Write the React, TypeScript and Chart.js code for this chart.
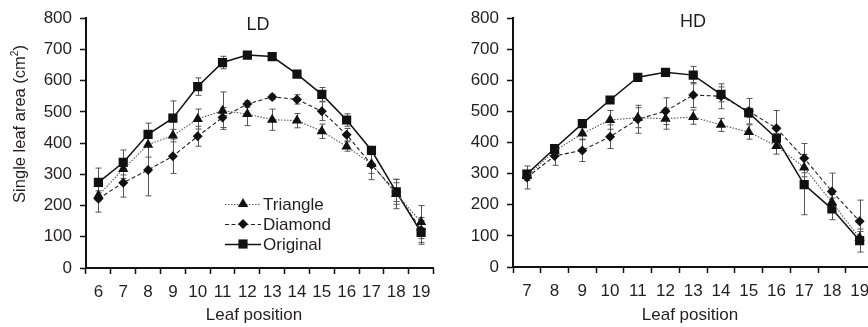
import React, { useEffect, useRef } from "react";
import { Chart, registerables } from "chart.js";
Chart.register(...registerables);

// ---------- DATA ----------
const ldPositions = ["6", "7", "8", "9", "10", "11", "12", "13", "14", "15", "16", "17", "18", "19"];
const ldTriangle = [232, 317, 395, 424, 477, 504, 493, 475, 472, 438, 389, 333, 237, 147];
const ldTriangleErr = [15, 30, 40, 20, 32, 60, 37, 34, 23, 23, 15, 30, 47, 53];
const ldDiamond = [222, 273, 314, 358, 422, 482, 525, 548, 540, 502, 427, 331, 243, 122];
const ldDiamondErr = [43, 46, 83, 55, 32, 32, 10, 8, 15, 30, 20, 48, 30, 40];
const ldOriginal = [274, 338, 428, 480, 581, 658, 682, 677, 621, 556, 474, 377, 244, 114];
const ldOriginalErr = [46, 40, 36, 55, 28, 20, 8, 8, 10, 22, 20, 12, 40, 38];

const hdPositions = ["7", "8", "9", "10", "11", "12", "13", "14", "15", "16", "17", "18", "19"];
const hdTriangle = [293, 373, 429, 473, 480, 477, 482, 457, 434, 389, 320, 208, 94];
const hdTriangleErr = [15, 15, 20, 30, 32, 34, 23, 21, 23, 26, 30, 25, 20];
const hdDiamond = [288, 357, 375, 419, 475, 501, 553, 549, 501, 446, 350, 243, 147];
const hdDiamondErr = [37, 30, 36, 38, 45, 43, 40, 40, 41, 57, 47, 59, 68];
const hdOriginal = [299, 381, 461, 537, 610, 626, 617, 555, 496, 414, 265, 187, 85];
const hdOriginalErr = [12, 10, 10, 8, 8, 8, 28, 24, 15, 15, 97, 35, 37];

const seriesNames = ["Triangle", "Diamond", "Original"];
const yTicks = [0, 100, 200, 300, 400, 500, 600, 700, 800];
const yAxisTitle = "Single leaf area (cm";
const xAxisTitle = "Leaf position";

// ---------- STYLE ----------
const FONT = "'Liberation Sans', Arial, Helvetica, sans-serif";
const TEXT = "#231f20";
const TICK_SIZE = 17;

const seriesStyles = [
  { pointStyle: "triangle", radius: 6, dash: [1.5, 1.5], color: "#555", width: 1.1 },
  { pointStyle: "rectRot", radius: 5, dash: [4, 2.5], color: "#222", width: 1.1 },
  { pointStyle: "rect", radius: 6.5, dash: [], color: "#111", width: 1.5 },
];

function drawMarker(ctx: CanvasRenderingContext2D, style: string, x: number, y: number, r: number) {
  ctx.beginPath();
  if (style === "triangle") {
    ctx.moveTo(x, y - r);
    ctx.lineTo(x + r * 0.866, y + r * 0.5);
    ctx.lineTo(x - r * 0.866, y + r * 0.5);
    ctx.closePath();
  } else if (style === "rectRot") {
    ctx.moveTo(x, y - r);
    ctx.lineTo(x + r, y);
    ctx.lineTo(x, y + r);
    ctx.lineTo(x - r, y);
    ctx.closePath();
  } else {
    const s = r * Math.SQRT1_2;
    ctx.rect(x - s, y - s, 2 * s, 2 * s);
  }
  ctx.fill();
}

const errorBarPlugin = {
  id: "errorBars",
  beforeDatasetsDraw(chart: any) {
    const ctx = chart.ctx;
    const ys = chart.scales.y;
    ctx.save();
    ctx.strokeStyle = "#555";
    ctx.lineWidth = 1;
    chart.data.datasets.forEach((ds: any, i: number) => {
      const errs: number[] = ds.errorBars;
      if (!errs) return;
      const meta = chart.getDatasetMeta(i);
      meta.data.forEach((pt: any, j: number) => {
        const v = ds.data[j];
        const e = errs[j];
        const x = Math.round(pt.x) + 0.5;
        const yt = ys.getPixelForValue(v + e);
        const yb = ys.getPixelForValue(v - e);
        ctx.beginPath();
        ctx.moveTo(x, yt);
        ctx.lineTo(x, yb);
        ctx.moveTo(x - 3, yt);
        ctx.lineTo(x + 3, yt);
        ctx.moveTo(x - 3, yb);
        ctx.lineTo(x + 3, yb);
        ctx.stroke();
      });
    });
    ctx.restore();
  },
};

const annotationPlugin = {
  id: "panelText",
  afterDraw(chart: any, _args: any, opts: any) {
    const ctx: CanvasRenderingContext2D = chart.ctx;
    ctx.save();
    ctx.fillStyle = TEXT;
    ctx.textBaseline = "middle";
    // panel title
    ctx.font = `18px ${FONT}`;
    ctx.textAlign = "center";
    ctx.fillText(opts.title, opts.titleX, opts.titleY);
    // x axis title
    ctx.font = `17px ${FONT}`;
    ctx.fillText(xAxisTitle, opts.xTitleX, opts.xTitleY);
    // y axis title
    if (opts.showYTitle) {
      ctx.save();
      ctx.translate(opts.yTitleX, opts.yTitleY);
      ctx.rotate(-Math.PI / 2);
      ctx.font = `16.5px ${FONT}`;
      const w1 = ctx.measureText(yAxisTitle).width;
      ctx.font = `10px ${FONT}`;
      const w2 = ctx.measureText("2").width;
      ctx.font = `16.5px ${FONT}`;
      const w3 = ctx.measureText(")").width;
      const total = w1 + w2 + w3;
      const x0 = -total / 2;
      ctx.textAlign = "left";
      ctx.fillText(yAxisTitle, x0, 0);
      ctx.font = `10px ${FONT}`;
      ctx.fillText("2", x0 + w1, -5);
      ctx.font = `16.5px ${FONT}`;
      ctx.fillText(")", x0 + w1 + w2, 0);
      ctx.restore();
    }
    // legend
    if (opts.legend) {
      const L = opts.legend;
      chart.data.datasets.forEach((ds: any, i: number) => {
        const st = seriesStyles[i];
        const yy = L.y + i * L.rowGap;
        ctx.save();
        ctx.strokeStyle = st.color;
        ctx.lineWidth = st.width;
        ctx.setLineDash(st.dash);
        ctx.beginPath();
        ctx.moveTo(L.x, yy + 0.5);
        ctx.lineTo(L.x + L.lineW, yy + 0.5);
        ctx.stroke();
        ctx.restore();
        ctx.fillStyle = "#111";
        drawMarker(ctx, st.pointStyle, L.x + L.lineW / 2, yy, st.radius);
        ctx.fillStyle = TEXT;
        ctx.font = `17px ${FONT}`;
        ctx.textAlign = "left";
        ctx.fillText(ds.label, L.x + L.lineW + 2, yy + 1);
      });
    }
    ctx.restore();
  },
};

function makeDatasets(values: number[][], errors: number[][]) {
  return values.map((vals, i) => {
    const st = seriesStyles[i];
    return {
      label: seriesNames[i],
      data: vals,
      errorBars: errors[i],
      borderColor: st.color,
      borderWidth: st.width,
      borderDash: st.dash,
      pointStyle: st.pointStyle,
      pointRadius: st.radius,
      pointHoverRadius: st.radius,
      pointBackgroundColor: "#111",
      pointBorderColor: "#111",
      pointBorderWidth: 0,
      tension: 0,
      fill: false,
    } as any;
  });
}

function makeConfig(
  labels: string[],
  values: number[][],
  errors: number[][],
  yWidth: number,
  xHeight: number,
  padRight: number,
  text: any
): any {
  return {
    type: "line",
    data: { labels, datasets: makeDatasets(values, errors) },
    plugins: [errorBarPlugin, annotationPlugin],
    options: {
      responsive: false,
      animation: false,
      layout: { padding: { top: 17, right: padRight, left: 0, bottom: 0 } },
      plugins: {
        legend: { display: false },
        tooltip: { enabled: false },
        title: { display: false },
        panelText: text,
      },
      scales: {
        x: {
          type: "category",
          offset: true,
          grid: {
            offset: true,
            drawOnChartArea: false,
            drawTicks: true,
            tickLength: 6,
            tickColor: "#111",
            tickWidth: 1.5,
          },
          border: { display: true, color: "#111", width: 2 },
          ticks: { color: TEXT, font: { family: FONT, size: TICK_SIZE }, padding: 8, maxRotation: 0, autoSkip: false },
          afterFit: (s: any) => {
            s.height = xHeight;
          },
        },
        y: {
          min: 0,
          max: 800,
          afterBuildTicks: (s: any) => {
            s.ticks = yTicks.map((v) => ({ value: v }));
          },
          grid: {
            drawOnChartArea: false,
            drawTicks: true,
            tickLength: 6,
            tickColor: "#111",
            tickWidth: 1.5,
          },
          border: { display: true, color: "#111", width: 2 },
          ticks: { color: TEXT, font: { family: FONT, size: TICK_SIZE }, padding: 8 },
          afterFit: (s: any) => {
            s.width = yWidth;
          },
        },
      },
    },
  };
}

export default function App() {
  const ldRef = useRef<HTMLCanvasElement>(null);
  const hdRef = useRef<HTMLCanvasElement>(null);

  useEffect(() => {
    Chart.defaults.font.family = FONT;
    Chart.defaults.color = TEXT;
    const c1 = new Chart(
      ldRef.current as HTMLCanvasElement,
      makeConfig(
        ldPositions,
        [ldTriangle, ldDiamond, ldOriginal],
        [ldTriangleErr, ldDiamondErr, ldOriginalErr],
        86,
        59,
        2,
        {
          title: "LD",
          titleX: 258,
          titleY: 25,
          xTitleX: 254,
          xTitleY: 315,
          showYTitle: true,
          yTitleX: 20,
          yTitleY: 124,
          legend: { x: 225, y: 204, rowGap: 20, lineW: 36 },
        }
      )
    );
    const c2 = new Chart(
      hdRef.current as HTMLCanvasElement,
      makeConfig(
        hdPositions,
        [hdTriangle, hdDiamond, hdOriginal],
        [hdTriangleErr, hdDiamondErr, hdOriginalErr],
        73,
        60,
        4,
        {
          title: "HD",
          titleX: 253,
          titleY: 22,
          xTitleX: 250,
          xTitleY: 315,
          showYTitle: false,
        }
      )
    );
    return () => {
      c1.destroy();
      c2.destroy();
    };
  }, []);

  return (
    <div
      style={{
        position: "absolute",
        left: 0,
        top: 0,
        width: 868,
        height: 327,
        overflow: "hidden",
        background: "#fff",
      }}
    >
      <canvas ref={ldRef} width={440} height={327} style={{ position: "absolute", left: 0, top: 0 }} />
      <canvas ref={hdRef} width={440} height={327} style={{ position: "absolute", left: 440, top: 0 }} />
    </div>
  );
}
